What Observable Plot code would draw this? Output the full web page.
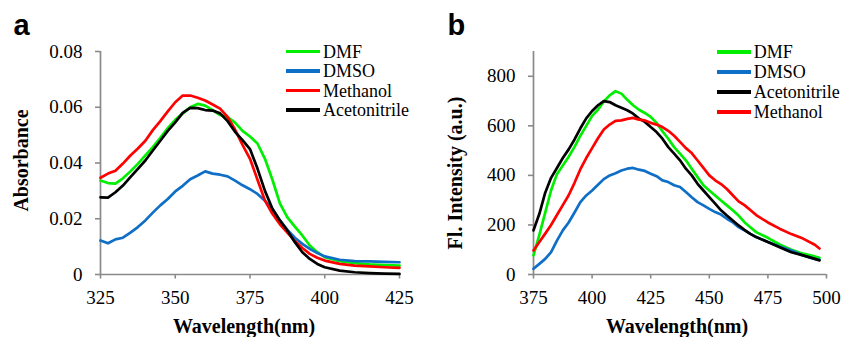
<!DOCTYPE html>
<html><head><meta charset="utf-8">
<script src="https://cdn.jsdelivr.net/npm/d3@7"></script>
<script src="https://cdn.jsdelivr.net/npm/@observablehq/plot@0.6"></script>
<style>
body{margin:0;background:#fff;}
#wrap{position:relative;width:844px;height:337px;overflow:hidden;font-family:"Liberation Serif","Times New Roman",serif;}
.panel{position:absolute;top:0;}
.legend{position:absolute;font-size:18px;color:#000;}
.legend div{white-space:nowrap;}
.sw{display:inline-block;width:34px;height:3.3px;vertical-align:middle;margin-right:3px;position:relative;top:-2px;}
#wrap svg g[aria-label$="tick label"] text{font-family:"Liberation Serif","Times New Roman",serif !important;font-size:19px !important;font-variant:normal !important;}
</style></head><body><div id="wrap"></div>
<script>
// ---------- Panel a: absorbance ----------
const aWl = [325,327.5,330,332.5,335,337.5,340,342.5,345,347.5,350,352.5,355,357.5,360,362.5,365,367.5,370,372.5,375,377.5,380,382.5,385,387.5,390,392.5,395,397.5,400,405,410,415,420,425];
const aDMF = [.0337,.0328,.0326,.0345,.0370,.0397,.0427,.0457,.0490,.0525,.0555,.0578,.0600,.0612,.0606,.0590,.0572,.0565,.0545,.0515,.0495,.0470,.0415,.0340,.0255,.0205,.0172,.0140,.0104,.0080,.0062,.0048,.0041,.0036,.0034,.0032];
const aDMSO = [.0122,.0112,.0126,.0132,.0150,.0170,.0194,.0222,.0248,.0271,.0298,.0318,.0342,.0355,.0370,.0362,.0358,.0352,.0337,.0320,.0306,.0289,.0265,.0234,.0194,.0160,.0132,.0110,.0092,.0077,.0065,.0053,.0048,.0047,.0045,.0044];
const aMethanol = [.0347,.0362,.0372,.0398,.0427,.0452,.0480,.0518,.0550,.0585,.0618,.0642,.0642,.0634,.0624,.0610,.0595,.0565,.0520,.0465,.0415,.0340,.0265,.0218,.0180,.0150,.0120,.0095,.0074,.0060,.0050,.0038,.0032,.0029,.0026,.0024];
const aAcetonitrile = [.0277,.0276,.0295,.0319,.0349,.0379,.0409,.0445,.0480,.0515,.0546,.0580,.0598,.0597,.0590,.0588,.0578,.0550,.0512,.0482,.0450,.0380,.0300,.0236,.0194,.0158,.0116,.0080,.0056,.0038,.0026,.0014,.0008,.0005,.0003,.0002];
const aXTicks = [325,350,375,400,425];
const aYTicks = [0,0.02,0.04,0.06,0.08];

// ---------- Panel b: fluorescence ----------
const bWl = [375,377.5,380,382.5,385,387.5,390,392.5,395,397.5,400,402.5,405,407.5,410,412.5,415,417.5,420,422.5,425,427.5,430,432.5,435,437.5,440,442.5,445,447.5,450,452.5,455,457.5,460,462.5,465,467.5,470,475,480,485,490,495,497];
const bDMF = [77,160,250,340,405,440,475,515,560,600,640,665,698,723,740,730,705,683,665,652,636,612,578,548,514,488,461,427,393,360,339,319,299,279,259,238,211,191,171,148,121,100,84,73,67];
const bDMSO = [23,43,63,90,137,178,210,250,292,319,339,362,385,400,409,420,427,430,423,418,407,397,380,373,360,353,333,312,292,279,265,252,242,225,211,191,178,164,151,131,113,97,77,63,59];
const bAcetonitrile = [178,245,330,390,430,470,505,545,590,630,660,683,700,696,683,673,663,649,629,616,595,575,548,514,488,461,427,400,366,339,312,286,259,238,218,198,180,164,151,131,110,90,77,63,57];
const bMethanol = [97,131,165,200,240,280,320,370,425,470,510,550,585,605,620,622,628,632,625,622,612,605,595,580,560,535,510,490,460,430,400,380,365,345,320,295,280,260,240,210,185,163,145,120,105];
const bXTicks = [375,400,425,450,475,500];
const bYTicks = [0,200,400,600,800];

const colors = {DMF:"#00ee00", DMSO:"#0f6fc6", Methanol:"#ff0000", Acetonitrile:"#000000"};
const gray = "#8a8a8a";
const serif = '"Liberation Serif","Times New Roman",serif';

function rows(wl, obj){
  const out = [];
  for (const [name, vals] of Object.entries(obj)) vals.forEach((v,i)=>out.push({series:name, x:wl[i], y:v}));
  return out;
}

function panel(o){
  const data = rows(o.wl, o.series);
  return Plot.plot({
    width:o.width, height:337,
    marginLeft:o.ml, marginRight:o.mr, marginTop:51, marginBottom:63,
    style:{fontFamily:serif, fontSize:"19px", background:"transparent", overflow:"visible"},
    x:{domain:o.xDomain},
    y:{domain:o.yDomain},
    marks:[
      Plot.ruleX([o.xDomain[0]], {stroke:gray, strokeWidth:1.7}),
      Plot.ruleY([o.yDomain[0]], {stroke:gray, strokeWidth:1.7}),
      Plot.axisX({ticks:o.xTicks, tickSize:4.5, tickPadding:11.5, stroke:gray, strokeWidth:1.6, fill:"#000", label:null, tickFormat:d=>String(d), fontFamily:serif, fontSize:19, fontVariant:"normal"}),
      Plot.axisY({ticks:o.yTicks, tickSize:5, tickPadding:13, stroke:gray, strokeWidth:1.6, fill:"#000", label:null, tickFormat:o.yFmt, fontFamily:serif, fontSize:19, fontVariant:"normal"}),
      ...o.drawOrder.map(name => Plot.line(data.filter(d=>d.series===name), {x:"x", y:"y", stroke:colors[name], strokeWidth:2.7, strokeLinejoin:"round"})),
      Plot.text(["Wavelength(nm)"], {frameAnchor:"bottom", text:d=>d, dx:o.xlDx, dy:58, textAnchor:"middle", lineAnchor:"bottom", fontFamily:serif, fontWeight:"bold", fontSize:20}),
      Plot.text([o.yLabel], {frameAnchor:"left", text:d=>d, rotate:-90, dx:o.ylDx, dy:o.ylDy, textAnchor:"middle", lineAnchor:"bottom", fontFamily:serif, fontWeight:"bold", fontSize:20}),
      Plot.text([o.letter], {frameAnchor:"top-left", text:d=>d, dx:o.letDx, dy:-17, textAnchor:"start", lineAnchor:"bottom", fontFamily:'"Liberation Sans",Arial,sans-serif', fontWeight:"bold", fontSize:29})
    ]
  });
}

const wrap = document.getElementById("wrap");

const pa = panel({
  wl:aWl, series:{DMF:aDMF, DMSO:aDMSO, Methanol:aMethanol, Acetonitrile:aAcetonitrile},
  drawOrder:["DMF","DMSO","Methanol","Acetonitrile"],
  width:430, ml:100, mr:31, xDomain:[325,425], yDomain:[0,0.08], xTicks:aXTicks, yTicks:aYTicks,
  yFmt:d=> d===0 ? "0" : d.toFixed(2),
  yLabel:"Absorbance", ylDx:-73, ylDy:-2.5, xlDx:-6, letter:"a", letDx:-87
});
const da = document.createElement("div"); da.className="panel"; da.style.left="0px"; da.appendChild(pa); wrap.appendChild(da);

const pb = panel({
  wl:bWl, series:{DMF:bDMF, DMSO:bDMSO, Acetonitrile:bAcetonitrile, Methanol:bMethanol},
  drawOrder:["DMF","DMSO","Acetonitrile","Methanol"],
  width:414, ml:103, mr:18, xDomain:[375,500], yDomain:[0,900], xTicks:bXTicks, yTicks:bYTicks,
  yFmt:d=>String(d),
  yLabel:"Fl. Intensity (a.u.)", ylDx:-72, ylDy:10, xlDx:-3, letter:"b", letDx:-86
});
const db = document.createElement("div"); db.className="panel"; db.style.left="430px"; db.appendChild(pb); wrap.appendChild(db);

function legend(names, left, top, lh){
  const L = document.createElement("div");
  L.className = "legend";
  L.style.left = left+"px"; L.style.top = top+"px"; L.style.lineHeight = lh+"px";
  for (const n of names){
    const r = document.createElement("div");
    r.style.height = lh+"px";
    const s = document.createElement("span"); s.className="sw"; s.style.background = colors[n];
    r.appendChild(s); r.appendChild(document.createTextNode(n));
    L.appendChild(r);
  }
  wrap.appendChild(L);
}
legend(["DMF","DMSO","Methanol","Acetonitrile"], 286, 42.5, 19.5);
legend(["DMF","DMSO","Acetonitrile","Methanol"], 716.7, 42.2, 20);
</script></body></html>
